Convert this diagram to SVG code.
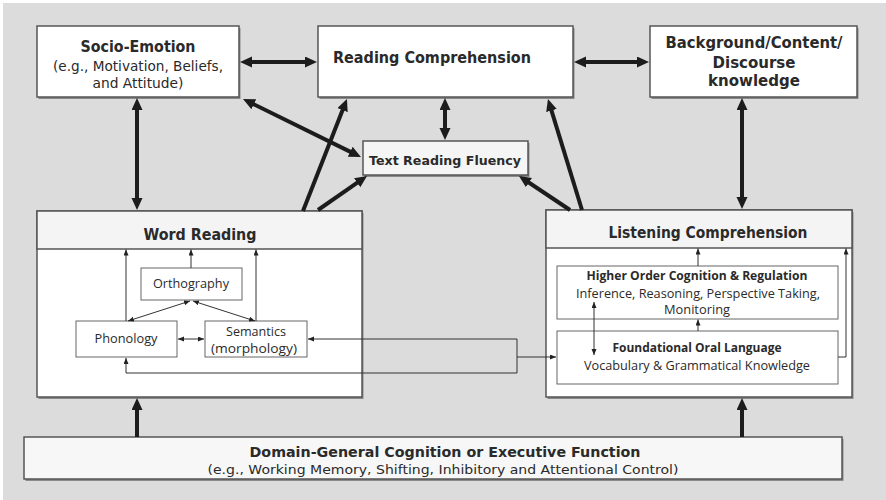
<svg xmlns="http://www.w3.org/2000/svg" width="886" height="500" viewBox="0 0 886 500">
<defs>
<marker id="big" markerUnits="userSpaceOnUse" markerWidth="14" markerHeight="12" refX="2" refY="5.5" orient="auto-start-reverse"><path d="M0,0 L12,5.5 L0,11 z" fill="#1c1c1c"/></marker>
<marker id="sm" markerUnits="userSpaceOnUse" markerWidth="7" markerHeight="6" refX="6" refY="2.5" orient="auto-start-reverse"><path d="M0,0 L6,2.5 L0,5 z" fill="#222"/></marker>
<style>
.box{fill:#fff;stroke:#555;stroke-width:1.5}
.shadow{fill:#8a8a8a}
.hdr{fill:#f4f4f4;stroke:#555;stroke-width:1.5}
.inner{fill:#fff;stroke:#666;stroke-width:1}
.t{font-family:"DejaVu Sans","Liberation Sans",sans-serif;fill:#2a2a2a;text-anchor:middle}
.b{font-weight:bold}
.c{font-family:"Open Sans","Noto Sans","Liberation Sans",sans-serif;fill:#2a2a2a;text-anchor:middle}
.thick{stroke:#1c1c1c;stroke-width:4;fill:none}
.thin{stroke:#333;stroke-width:1;fill:none}
</style>
</defs>
<rect x="0" y="0" width="886" height="500" fill="#fff"/>
<rect x="3" y="3" width="883" height="497" fill="#dcdcdc"/>

<g id="socio-emotion">
<rect class="shadow" x="38.5" y="28" width="202" height="71"/>
<rect class="box" x="37" y="26" width="202" height="71"/>
<text class="t b" x="138" y="52" font-size="15" textLength="115" lengthAdjust="spacingAndGlyphs">Socio-Emotion</text>
<text class="t" x="138" y="71" font-size="13.5" textLength="170" lengthAdjust="spacingAndGlyphs">(e.g., Motivation, Beliefs,</text>
<text class="t" x="138" y="88" font-size="13.5" textLength="91" lengthAdjust="spacingAndGlyphs">and Attitude)</text>
</g>

<g id="reading-comprehension">
<rect class="shadow" x="319.5" y="28" width="255" height="71"/>
<rect class="box" x="318" y="26" width="255" height="71"/>
<text class="t b" x="432" y="63" font-size="15.5" textLength="198" lengthAdjust="spacingAndGlyphs">Reading Comprehension</text>
</g>

<g id="background-knowledge">
<rect class="shadow" x="651.5" y="28" width="207" height="71"/>
<rect class="box" x="650" y="26" width="207" height="71"/>
<text class="t b" x="754" y="48" font-size="15" textLength="177" lengthAdjust="spacingAndGlyphs">Background/Content/</text>
<text class="t b" x="754" y="68" font-size="15">Discourse</text>
<text class="t b" x="754" y="86" font-size="15">knowledge</text>
</g>

<g id="text-reading-fluency">
<rect class="shadow" x="364.5" y="143" width="165" height="34"/>
<rect x="363" y="141" width="165" height="34" fill="#f5f5f5" stroke="#555" stroke-width="1.5"/>
<text class="t b" x="445" y="165" font-size="13" textLength="152" lengthAdjust="spacingAndGlyphs">Text Reading Fluency</text>
</g>

<g id="word-reading">
<rect class="shadow" x="38.5" y="213" width="325" height="186"/>
<rect class="box" x="37" y="211" width="325" height="186"/>
<rect class="hdr" x="37" y="211" width="325" height="38"/>
<text class="t b" x="200" y="240" font-size="15" textLength="113" lengthAdjust="spacingAndGlyphs">Word Reading</text>
</g>

<g id="orthography">
<rect class="inner" x="141" y="268" width="101" height="32"/>
<text class="c" x="191" y="288" font-size="12" textLength="76" lengthAdjust="spacingAndGlyphs">Orthography</text>
</g>

<g id="phonology">
<rect class="inner" x="76" y="321" width="101" height="36"/>
<text class="c" x="126" y="343" font-size="12" textLength="63" lengthAdjust="spacingAndGlyphs">Phonology</text>
</g>

<g id="semantics">
<rect class="inner" x="205" y="321" width="102" height="36"/>
<text class="c" x="256" y="336" font-size="12" textLength="60" lengthAdjust="spacingAndGlyphs">Semantics</text>
<text class="c" x="254" y="353" font-size="12" textLength="86" lengthAdjust="spacingAndGlyphs">(morphology)</text>
</g>

<g id="listening-comprehension">
<rect class="shadow" x="547.5" y="212" width="306" height="187"/>
<rect class="box" x="546" y="210" width="306" height="187"/>
<rect class="hdr" x="546" y="210" width="306" height="38"/>
<text class="t b" x="708" y="238" font-size="15" textLength="199" lengthAdjust="spacingAndGlyphs">Listening Comprehension</text>
</g>

<g id="higher-order">
<rect class="inner" x="557" y="266" width="281" height="53"/>
<text class="c b" x="697" y="280" font-size="12" textLength="221" lengthAdjust="spacingAndGlyphs">Higher Order Cognition &amp; Regulation</text>
<text class="c" x="698" y="298" font-size="12" textLength="244" lengthAdjust="spacingAndGlyphs">Inference, Reasoning, Perspective Taking,</text>
<text class="c" x="697" y="314" font-size="12" textLength="66" lengthAdjust="spacingAndGlyphs">Monitoring</text>
</g>

<g id="foundational-oral-language">
<rect class="inner" x="557" y="331" width="281" height="53"/>
<text class="c b" x="697" y="352" font-size="12" textLength="169" lengthAdjust="spacingAndGlyphs">Foundational Oral Language</text>
<text class="c" x="697" y="370" font-size="12" textLength="226" lengthAdjust="spacingAndGlyphs">Vocabulary &amp; Grammatical Knowledge</text>
</g>

<g id="domain-general">
<rect class="shadow" x="25.5" y="439" width="818" height="42"/>
<rect x="24" y="437" width="818" height="42" fill="#f7f7f7" stroke="#555" stroke-width="1.5"/>
<text class="t b" x="445" y="457" font-size="14" textLength="391" lengthAdjust="spacingAndGlyphs">Domain-General Cognition or Executive Function</text>
<text class="t" x="443" y="474" font-size="13" textLength="471" lengthAdjust="spacingAndGlyphs">(e.g., Working Memory, Shifting, Inhibitory and Attentional Control)</text>
</g>

<g id="connectors">
<line class="thick" x1="250" y1="62" x2="307" y2="62" marker-start="url(#big)" marker-end="url(#big)"/>
<line class="thick" x1="584" y1="62" x2="639" y2="62" marker-start="url(#big)" marker-end="url(#big)"/>
<line class="thick" x1="137" y1="108" x2="137" y2="200" marker-start="url(#big)" marker-end="url(#big)"/>
<line class="thick" x1="742" y1="108" x2="742" y2="199" marker-start="url(#big)" marker-end="url(#big)"/>
<line class="thick" x1="445" y1="108" x2="445" y2="130" marker-start="url(#big)" marker-end="url(#big)"/>
<line class="thick" x1="252" y1="103.4" x2="352" y2="152.6" marker-start="url(#big)" marker-end="url(#big)"/>
<line class="thick" x1="303" y1="211" x2="343.3" y2="108.3" marker-end="url(#big)"/>
<line class="thick" x1="318" y1="210" x2="358.8" y2="181.7" marker-end="url(#big)"/>
<line class="thick" x1="570" y1="210" x2="527.3" y2="181.5" marker-end="url(#big)"/>
<line class="thick" x1="582" y1="210" x2="550.9" y2="108.6" marker-end="url(#big)"/>
<line class="thick" x1="137" y1="437" x2="137" y2="408" marker-end="url(#big)"/>
<line class="thick" x1="742" y1="437" x2="742" y2="408" marker-end="url(#big)"/>

<line class="thin" x1="126" y1="321" x2="126" y2="249.5" marker-end="url(#sm)"/>
<line class="thin" x1="191" y1="268" x2="191" y2="249.5" marker-end="url(#sm)"/>
<line class="thin" x1="256" y1="321" x2="256" y2="249.5" marker-end="url(#sm)"/>
<line class="thin" x1="128" y1="321" x2="190" y2="301" marker-start="url(#sm)" marker-end="url(#sm)"/>
<line class="thin" x1="255" y1="321" x2="193" y2="301" marker-start="url(#sm)" marker-end="url(#sm)"/>
<line class="thin" x1="178" y1="339" x2="204" y2="339" marker-start="url(#sm)" marker-end="url(#sm)"/>
<path class="thin" d="M308,339 H517 V373 H126 V358" marker-start="url(#sm)" marker-end="url(#sm)"/>
<line class="thin" x1="517" y1="357" x2="556" y2="357" marker-end="url(#sm)"/>

<line class="thin" x1="698" y1="266" x2="698" y2="248.5" marker-end="url(#sm)"/>
<line class="thin" x1="698" y1="331" x2="698" y2="319.5" marker-end="url(#sm)"/>
<line class="thin" x1="594" y1="302" x2="594" y2="355" marker-start="url(#sm)" marker-end="url(#sm)"/>
<path class="thin" d="M838,357 H846 V248.5" marker-end="url(#sm)"/>
</g>
</svg>
